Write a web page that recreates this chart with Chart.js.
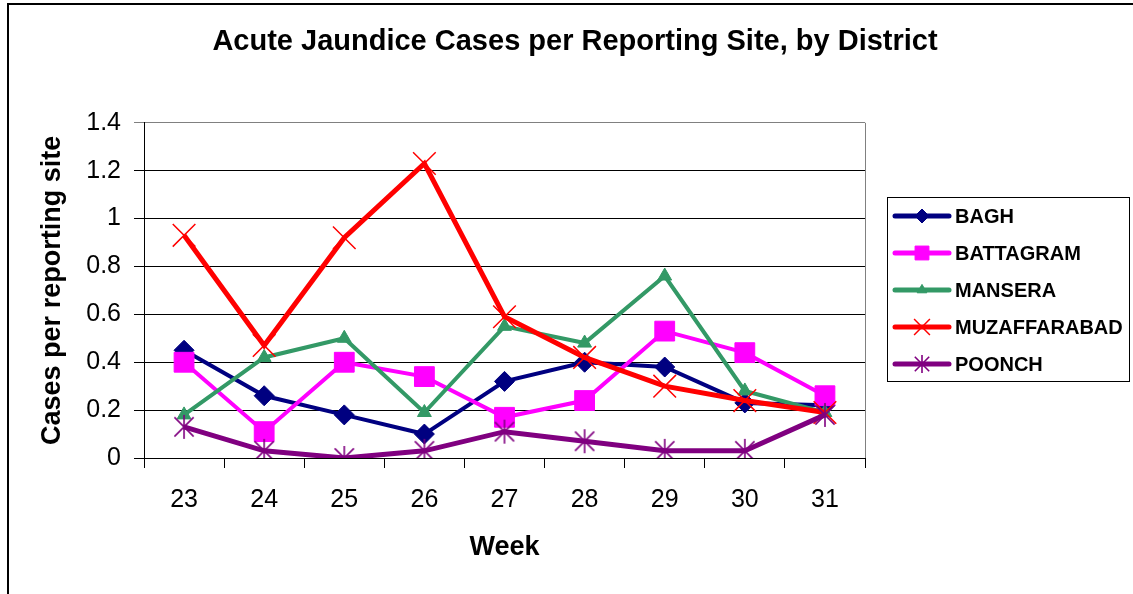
<!DOCTYPE html>
<html>
<head>
<meta charset="utf-8">
<title>Acute Jaundice Cases per Reporting Site</title>
<script src="https://cdn.jsdelivr.net/npm/chart.js@4/dist/chart.umd.min.js"></script>
<style>
  html, body { margin: 0; padding: 0; background: #fff; }
  #chart { display: block; }
</style>
</head>
<body>
<canvas id="chart" width="1133" height="594"></canvas>
<script>
"use strict";

// values
const weeks = ["23", "24", "25", "26", "27", "28", "29", "30", "31"];
const bagh = [0.45, 0.26, 0.18, 0.10, 0.32, 0.40, 0.38, 0.23, 0.22];
const battagram = [0.40, 0.11, 0.40, 0.34, 0.17, 0.24, 0.53, 0.44, 0.26];
const mansera = [0.18, 0.42, 0.50, 0.19, 0.55, 0.48, 0.76, 0.28, 0.19];
const muzaffarabad = [0.93, 0.47, 0.92, 1.23, 0.59, 0.42, 0.30, 0.24, 0.19];
const poonch = [0.13, 0.03, 0.00, 0.03, 0.11, 0.07, 0.03, 0.03, 0.18];

const FONT = "'Liberation Sans', Arial, sans-serif";

// spreadsheet-style asterisk: one vertical stroke plus an X
function asterisk(color, size) {
  const c = document.createElement("canvas");
  c.width = c.height = size;
  const g = c.getContext("2d");
  const m = size / 2, r = size / 2 - 1, d = r * 0.8;
  g.strokeStyle = color;
  g.lineWidth = 1.6;
  g.beginPath();
  g.moveTo(m, m - r); g.lineTo(m, m + r);
  g.moveTo(m - d, m - d); g.lineTo(m + d, m + d);
  g.moveTo(m - d, m + d); g.lineTo(m + d, m - d);
  g.stroke();
  return c;
}

function series(label, data, color, style, radius, width, order) {
  const open = style === "crossRot" || typeof style !== "string";
  return {
    label, data, order,
    borderColor: color,
    backgroundColor: color,
    borderWidth: width,
    tension: 0,
    pointStyle: style,
    pointRadius: radius,
    pointHoverRadius: radius,
    pointBackgroundColor: color,
    pointBorderColor: color,
    pointBorderWidth: open ? 1.5 : 1,
  };
}

const datasets = [
  series("BAGH", bagh, "#000080", "rectRot", 10, 4, 5),
  series("BATTAGRAM", battagram, "#ff00ff", "rect", 14, 4, 4),
  series("MANSERA", mansera, "#339966", "triangle", 8, 4, 3),
  series("MUZAFFARABAD", muzaffarabad, "#ff0000", "crossRot", 16, 5, 2),
  series("POONCH", poonch, "#800080", asterisk("#800080", 26), 12, 5, 1),
];
const legendMarks = [
  "rectRot", "rect", "triangle", "crossRot", asterisk("#800080", 20),
];

// white page, the cut-off outer frame and the grey right edge of the plot
const framePlugin = {
  id: "frame",
  beforeDraw(chart) {
    const { ctx, width, height } = chart;
    ctx.save();
    ctx.fillStyle = "#fff";
    ctx.fillRect(0, 0, width, height);
    ctx.strokeStyle = "#000";
    ctx.lineWidth = 2;
    ctx.beginPath();
    ctx.moveTo(8, height);
    ctx.lineTo(8, 4);
    ctx.lineTo(width, 4);
    ctx.stroke();
    ctx.restore();
  },
  beforeDatasetsDraw(chart) {
    const { ctx, chartArea: a } = chart;
    ctx.save();
    ctx.strokeStyle = "#808080";
    ctx.lineWidth = 1;
    ctx.beginPath();
    ctx.moveTo(Math.round(a.right) + 0.5, a.top);
    ctx.lineTo(Math.round(a.right) + 0.5, a.bottom);
    ctx.stroke();
    ctx.restore();
  },
};

// boxed legend with line + marker samples, like the spreadsheet one
const legendPlugin = {
  id: "boxLegend",
  afterDraw(chart) {
    const { ctx } = chart;
    ctx.save();
    ctx.strokeStyle = "#000";
    ctx.lineWidth = 1;
    ctx.strokeRect(887.5, 197.5, 242, 184);
    ctx.font = "bold 20px " + FONT;
    ctx.textBaseline = "middle";
    ctx.textAlign = "left";
    chart.data.datasets.forEach((ds, i) => {
      const y = 216 + i * 37;
      ctx.strokeStyle = ds.borderColor;
      ctx.lineWidth = 5;
      ctx.lineCap = "round";
      ctx.beginPath();
      ctx.moveTo(895, y);
      ctx.lineTo(949, y);
      ctx.stroke();
      ctx.fillStyle = ds.borderColor;
      ctx.lineWidth = ds.pointBorderWidth;
      ctx.lineCap = "butt";
      Chart.helpers.drawPoint(ctx, {
        pointStyle: legendMarks[i],
        radius: ds.pointRadius * 0.7,
        rotation: 0,
        borderWidth: ds.pointBorderWidth,
      }, 922, y);
      ctx.fillStyle = "#000";
      ctx.fillText(ds.label, 955, y + 1);
    });
    ctx.restore();
  },
};

const titleFont = { family: FONT, size: 27, weight: "bold", lineHeight: 1.2 };

new Chart(document.getElementById("chart"), {
  type: "line",
  data: { labels: weeks, datasets },
  plugins: [framePlugin, legendPlugin],
  options: {
    responsive: false,
    animation: false,
    events: [],
    layout: { padding: { left: 17, top: 0, right: 0, bottom: 0 } },
    plugins: {
      legend: { display: false },
      tooltip: { enabled: false },
      title: {
        display: true,
        text: "Acute Jaundice Cases per Reporting Site, by District",
        color: "#000",
        font: { family: FONT, size: 29, weight: "bold", lineHeight: 1.2 },
        padding: { top: 25, bottom: 63 },
      },
    },
    scales: {
      x: {
        type: "category",
        offset: true,
        afterFit: (s) => { s.height = 136; },
        grid: {
          offset: true,
          drawOnChartArea: false,
          drawTicks: true,
          tickLength: 10,
          color: "#000",
        },
        border: { display: true, color: "#000", width: 1 },
        ticks: {
          color: "#000",
          padding: 17,
          maxRotation: 0,
          font: { family: FONT, size: 25 },
        },
        title: {
          display: true,
          text: "Week",
          color: "#000",
          font: titleFont,
          padding: { top: 0, bottom: 30 },
        },
      },
      y: {
        min: 0,
        max: 1.4,
        afterFit: (s) => { s.width = 127; },
        grid: {
          drawTicks: true,
          tickLength: 10,
          color: (c) => (Math.abs(c.tick.value - 1.4) < 1e-6 ? "#808080" : "#000"),
        },
        border: { display: true, color: "#000", width: 1 },
        ticks: {
          stepSize: 0.2,
          color: "#000",
          padding: 13,
          font: { family: FONT, size: 25 },
          callback: (v) => String(Number(v.toFixed(1))),
        },
        title: {
          display: true,
          text: "Cases per reporting site",
          color: "#000",
          font: titleFont,
          padding: { top: 19, bottom: 0 },
        },
      },
      // empty right-hand scale that keeps room for the legend box
      pad: {
        type: "linear",
        position: "right",
        display: true,
        min: 0,
        max: 1,
        afterFit: (s) => { s.width = 268; },
        grid: { display: false },
        border: { display: false },
        ticks: { display: false },
      },
    },
  },
});
</script>
</body>
</html>
